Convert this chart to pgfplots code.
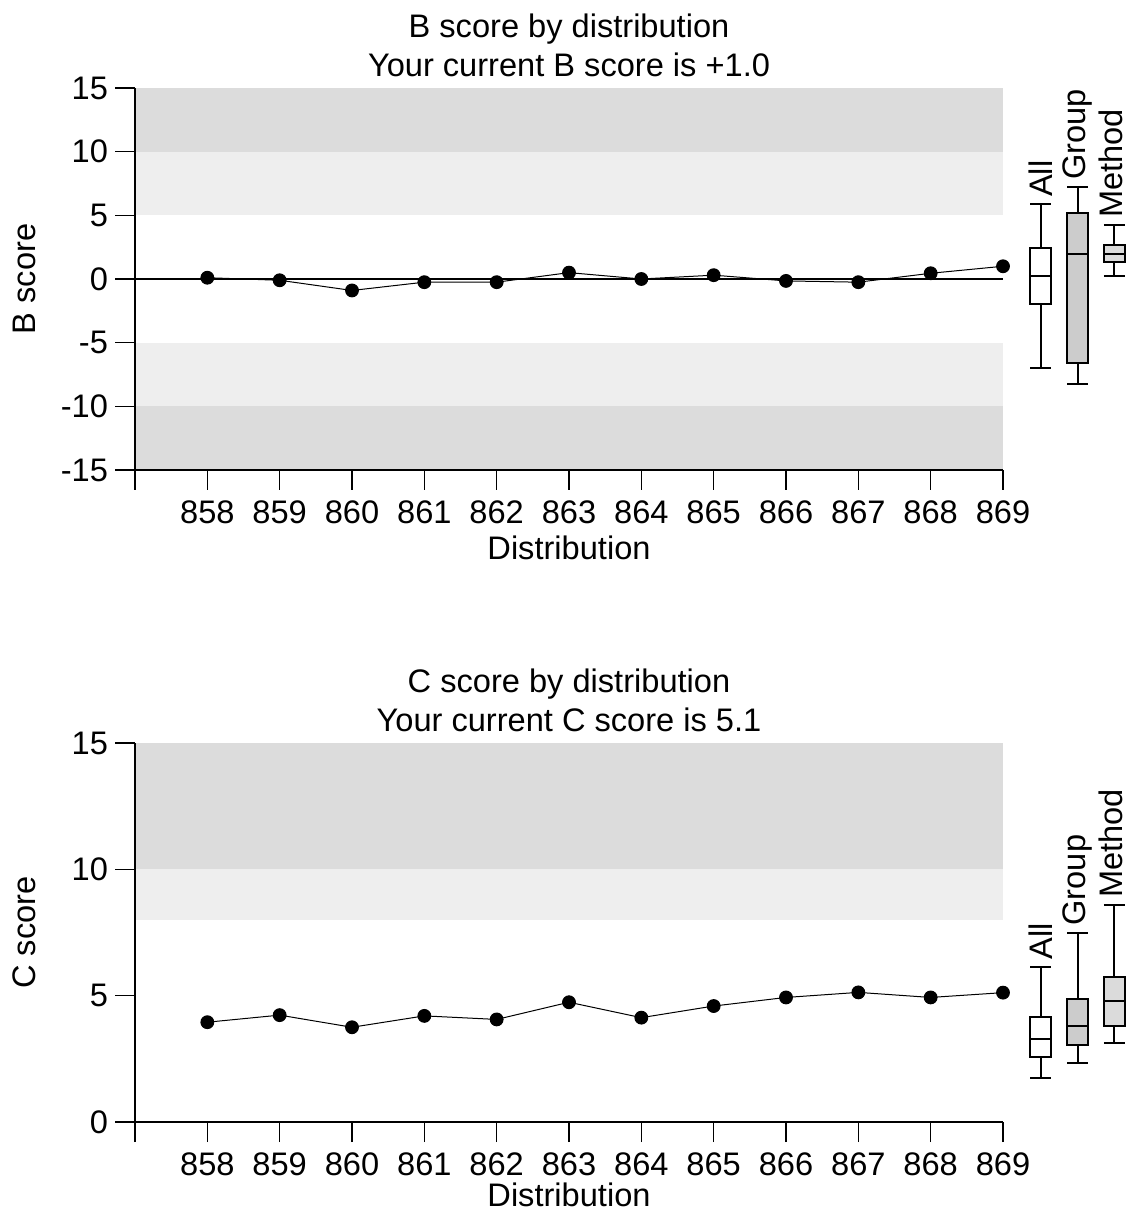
\documentclass[border=0pt]{standalone}
\usepackage{fontspec}
\setmainfont{Liberation Sans}
\usepackage{pgfplots}
\pgfplotsset{compat=1.18}
\usepgfplotslibrary{statistics}
\definecolor{banddark}{gray}{0.863}
\definecolor{bandlight}{gray}{0.933}
\definecolor{boxA}{gray}{0.80}
\definecolor{boxB}{gray}{0.86}
\pgfplotsset{
  myax/.style={
    scale only axis, width=434pt,
    xmin=857, xmax=869,
    axis x line=bottom, axis y line=left,
    axis on top,
    axis line style={-, line width=0.75pt, black},
    tick align=outside, major tick length=10pt,
    tick style={black, line width=0.75pt},
    xtick={857,858,...,869},
    xticklabels={{},858,859,860,861,862,863,864,865,866,867,868,869},
    xticklabel style={yshift=-2pt},
    /pgf/number format/assume math mode=true,
    font=\fontsize{16.3}{19.5}\selectfont,
    clip=false,
    xlabel=Distribution,
    xlabel style={at={(rel axis cs:0.5,0)}, anchor=center, yshift=-39pt},
    title style={at={(rel axis cs:0.5,1)}, anchor=center, yshift=15.5pt, align=center},
    ylabel style={at={(axis description cs:-0.127,0.5)}, anchor=center},
  },
  databox/.style={draw=black, line width=1pt},
}
\begin{document}
\begin{tikzpicture}
\useasboundingbox (-67.5pt,-372pt) rectangle (496pt,235pt);
% ---------------- top panel ----------------
\begin{axis}[myax, at={(0,0)}, anchor=south west, height=191pt,
  ymin=-15, ymax=15, ytick={-15,-10,-5,0,5,10,15},
  ylabel={B score},
  title={B score by distribution\\Your current B score is +1.0}]
\addplot[draw=none, fill=banddark] coordinates {(857,10) (869,10) (869,15) (857,15)} -- cycle;
\addplot[draw=none, fill=bandlight] coordinates {(857,5) (869,5) (869,10) (857,10)} -- cycle;
\addplot[draw=none, fill=bandlight] coordinates {(857,-5) (869,-5) (869,-10) (857,-10)} -- cycle;
\addplot[draw=none, fill=banddark] coordinates {(857,-10) (869,-10) (869,-15) (857,-15)} -- cycle;
\addplot[black, line width=0.75pt] coordinates {(857,0) (869,0)};
\addplot[black, line width=0.5pt, mark=*, mark size=3.2pt] coordinates {
 (858,0.1) (859,-0.1) (860,-0.9) (861,-0.25) (862,-0.25) (863,0.5)
 (864,0.0) (865,0.3) (866,-0.15) (867,-0.25) (868,0.45) (869,1.0)};
\addplot[databox, fill=white, boxplot prepared={draw direction=y, draw position=869.52,
  box extend=0.28, whisker extend=0.29,
  lower whisker=-7.0, lower quartile=-2.0, median=0.2, upper quartile=2.4, upper whisker=5.9}] coordinates {};
\addplot[databox, fill=boxA, boxplot prepared={draw direction=y, draw position=870.03,
  box extend=0.28, whisker extend=0.29,
  lower whisker=-8.25, lower quartile=-6.6, median=1.95, upper quartile=5.2, upper whisker=7.25}] coordinates {};
\addplot[databox, fill=boxB, boxplot prepared={draw direction=y, draw position=870.54,
  box extend=0.28, whisker extend=0.29,
  lower whisker=0.2, lower quartile=1.3, median=1.95, upper quartile=2.7, upper whisker=4.25}] coordinates {};
\node[rotate=90, anchor=west] at (axis cs:869.52,5.9) {All};
\node[rotate=90, anchor=west] at (axis cs:870.03,7.25) {Group};
\node[rotate=90, anchor=west] at ([xshift=-2pt]axis cs:870.54,4.25) {Method};
\end{axis}
% ---------------- bottom panel ----------------
\begin{axis}[myax, at={(0,-326pt)}, anchor=south west, height=189.5pt,
  ymin=0, ymax=15, ytick={0,5,10,15},
  ylabel={C score},
  xlabel style={yshift=2.5pt},
  title={C score by distribution\\Your current C score is 5.1}]
\addplot[draw=none, fill=banddark] coordinates {(857,10) (869,10) (869,15) (857,15)} -- cycle;
\addplot[draw=none, fill=bandlight] coordinates {(857,8) (869,8) (869,10) (857,10)} -- cycle;
\addplot[black, line width=0.5pt, mark=*, mark size=3.2pt] coordinates {
 (858,3.95) (859,4.23) (860,3.75) (861,4.2) (862,4.06) (863,4.74)
 (864,4.13) (865,4.59) (866,4.93) (867,5.13) (868,4.93) (869,5.12)};
\addplot[databox, fill=white, boxplot prepared={draw direction=y, draw position=869.52,
  box extend=0.28, whisker extend=0.29,
  lower whisker=1.73, lower quartile=2.56, median=3.27, upper quartile=4.14, upper whisker=6.15}] coordinates {};
\addplot[databox, fill=boxA, boxplot prepared={draw direction=y, draw position=870.03,
  box extend=0.28, whisker extend=0.29,
  lower whisker=2.32, lower quartile=3.03, median=3.81, upper quartile=4.85, upper whisker=7.5}] coordinates {};
\addplot[databox, fill=boxB, boxplot prepared={draw direction=y, draw position=870.54,
  box extend=0.28, whisker extend=0.29,
  lower whisker=3.11, lower quartile=3.81, median=4.8, upper quartile=5.73, upper whisker=8.6}] coordinates {};
\node[rotate=90, anchor=west] at (axis cs:869.52,6.15) {All};
\node[rotate=90, anchor=west] at (axis cs:870.03,7.5) {Group};
\node[rotate=90, anchor=west] at ([xshift=-2pt]axis cs:870.54,8.6) {Method};
\end{axis}
\end{tikzpicture}
\end{document}
